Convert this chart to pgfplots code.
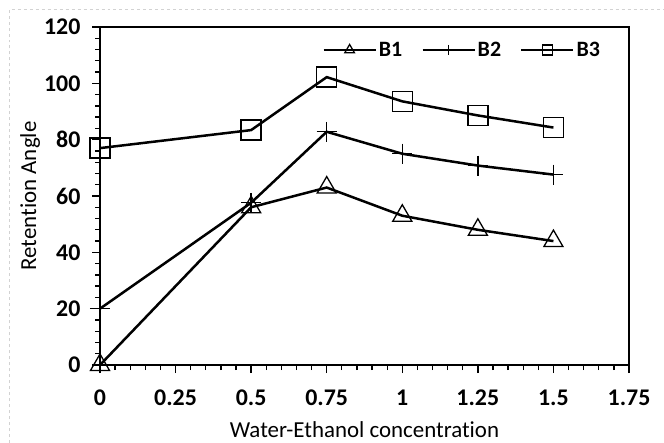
\documentclass[border=0pt]{standalone}
\usepackage{fontspec}
\setmainfont{Carlito}[Ligatures={NoCommon}]
\usepackage{pgfplots}
\pgfplotsset{compat=1.18}
\begin{document}
\begin{tikzpicture}
\useasboundingbox (0bp,0bp) rectangle (664bp,443bp);
\draw[gray!35, dashed, line width=0.8bp] (9bp,0bp) -- (9bp,433.5bp) -- (664bp,433.5bp);
\begin{axis}[
 at={(100bp,78bp)}, anchor=south west,
 scale only axis, width=529bp, height=338bp,
 xmin=0, xmax=1.75, ymin=0, ymax=120,
 xtick={0,0.25,0.5,0.75,1,1.25,1.5,1.75},
 xticklabels={0,0.25,0.5,0.75,1,1.25,1.5,1.75},
 ytick={0,20,40,60,80,100,120},
 yticklabels={0,20,40,60,80,100,120},
 minor x tick num=4, minor y tick num=4,
 tick align=outside, tick pos=left,
 major tick length=8bp, minor tick length=5bp,
 every tick/.style={black, line width=1.3bp},
 axis line style={black, line width=2.5bp},
 tick label style={font=\fontsize{24}{24}\selectfont\bfseries},
 xticklabel style={yshift=-13bp},
 yticklabel style={xshift=-8bp},
 label style={font=\fontsize{23}{23}\selectfont},
 xlabel={Water-Ethanol concentration},
 ylabel={Retention Angle},
 xlabel style={at={(axis description cs:0.5,-0.192)}, anchor=center},
 ylabel style={at={(axis description cs:-0.132,0.5)}, anchor=center},
 clip=false,
 legend style={draw=none, fill=none, at={(rel axis cs:0.955,0.932)}, anchor=east,
   font=\fontsize{22}{22}\selectfont\bfseries,
   /tikz/every even column/.append style={column sep=17bp}},
 legend columns=3,
 legend image code/.code={\draw[#1, every mark/.append style={scale=0.5}, mark repeat=2, mark phase=2] plot coordinates {(0bp,0bp)(26bp,0bp)(52bp,0bp)};},
]
\draw[black, line width=2.5bp] (rel axis cs:0,0) rectangle (rel axis cs:1,1);
\addplot[black, line width=2.5bp, mark=triangle, mark size=11bp, mark options={line width=1.3bp, solid}]
 coordinates {(0,0)(0.5,56)(0.75,63)(1,53)(1.25,48)(1.5,44)};
\addlegendentry{B1}
\addplot[black, line width=2.5bp, mark=+, mark size=10bp, mark options={line width=1.3bp, solid}]
 coordinates {(0,20)(0.5,57.6)(0.75,82.8)(1,75)(1.25,70.8)(1.5,67.6)};
\addlegendentry{B2}
\addplot[black, line width=2.5bp, mark=square, mark size=10bp, mark options={line width=1.3bp, solid}]
 coordinates {(0,77)(0.5,83.4)(0.75,102.2)(1,93.6)(1.25,88.6)(1.5,84.3)};
\addlegendentry{B3}
\end{axis}
\end{tikzpicture}
\end{document}
